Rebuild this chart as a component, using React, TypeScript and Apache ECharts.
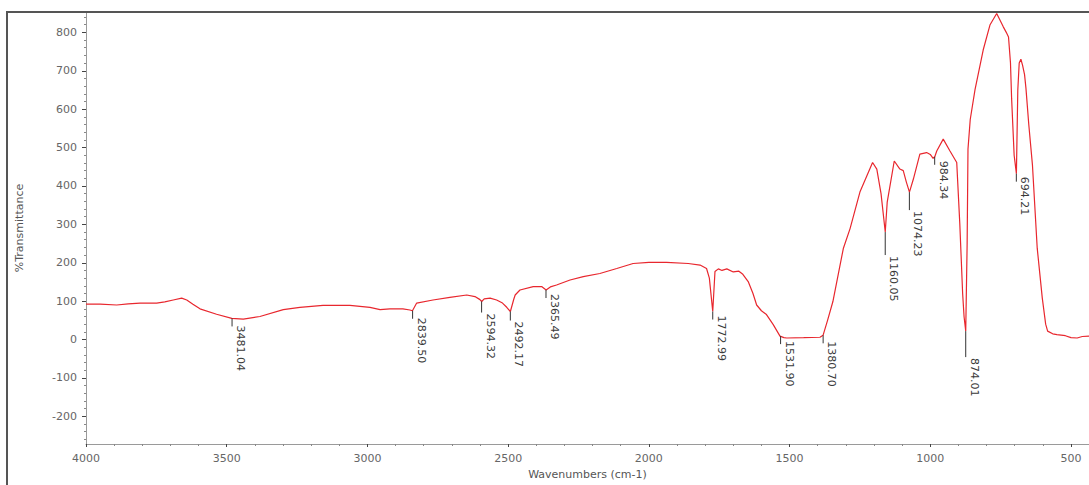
import React, { useEffect, useRef } from "react";
import * as echarts from "echarts";

// ---- Data ----
const wavenumbers = [
  4000, 3950, 3891, 3850, 3808, 3749, 3720, 3690, 3660, 3642, 3620, 3595, 3536, 3482, 3441, 3382, 3299, 3240,
  3158, 3062, 2991, 2955, 2920, 2874, 2849, 2840, 2825, 2767, 2707, 2647, 2618, 2600, 2594, 2585, 2564, 2541,
  2520, 2505, 2492, 2480, 2475, 2458, 2411, 2381, 2365, 2350, 2328, 2280, 2233, 2174, 2114, 2056, 2000, 1937,
  1860, 1818, 1795, 1785, 1773, 1765, 1753, 1740, 1723, 1700, 1680, 1666, 1647, 1630, 1617, 1600, 1582, 1558,
  1534, 1520, 1510, 1450, 1392, 1381, 1365, 1346, 1309, 1285, 1250, 1205, 1190, 1175, 1160, 1153, 1128, 1108,
  1096, 1085, 1074, 1060, 1037, 1013, 1000, 990, 984, 977, 954, 930, 906, 895, 885, 880, 874, 869, 866, 858,
  841, 812, 788, 764, 741, 730, 722, 715, 711, 702, 694, 689, 684, 678, 672, 665, 660, 650, 637, 620, 602, 590,
  583, 565, 550, 520, 500, 478, 460, 436,
];
const transmittance = [
  92, 92, 90, 93, 95, 95, 98, 103, 108, 103, 92, 80, 66, 55, 53, 60, 78, 84,
  89, 89, 84, 78, 80, 80, 77, 75, 95, 103, 110, 116, 112, 104, 99, 106, 108, 103,
  95, 84, 73, 105, 116, 129, 138, 138, 129, 137, 142, 155, 164, 172, 185, 198, 201, 201,
  198, 194, 185, 160, 73, 177, 184, 180, 184, 176, 178, 170, 151, 120, 90, 75, 65, 39,
  9, 5, 4, 5, 6, 11, 50, 99, 237, 289, 384, 461, 444, 380, 280, 358, 465, 444,
  440, 410, 384, 418, 483, 487, 482, 472, 476, 491, 522, 491, 461, 300, 120, 60, 22, 250, 496, 573,
  651, 754, 819, 849, 815, 800, 788, 720, 628, 480, 432, 650, 720, 730, 714, 690, 654, 560, 455, 238, 108, 40,
  22, 15, 13, 10, 5, 4, 8, 9,
];

const peakWavenumbers = [3481.04, 2839.5, 2594.32, 2492.17, 2365.49, 1772.99, 1531.9, 1380.7, 1160.05, 1074.23, 984.34, 874.01, 694.21];
const peakValues = [55, 75, 99, 73, 129, 73, 9, 11, 280, 384, 476, 22, 432];
const peakLabels = ["3481.04", "2839.50", "2594.32", "2492.17", "2365.49", "1772.99", "1531.90", "1380.70", "1160.05", "1074.23", "984.34", "874.01", "694.21"];

const xTickValues = [4000, 3500, 3000, 2500, 2000, 1500, 1000, 500];
const yTickValues = [-200, -100, 0, 100, 200, 300, 400, 500, 600, 700, 800];

// ---- Layout / style (not data) ----
const LABEL_GAP = [7, 7, 12, 10, 4, 4, 5, 6, 24, 19, 4, 27, 3];
const FONT = '"DejaVu Sans", Verdana, sans-serif';

const xMinor: number[] = [];
for (let v = 500; v <= 4000; v += 100) if (v % 500 !== 0) xMinor.push(v);
const yMinor: number[] = [];
for (let v = -260; v <= 840; v += 20) if (v % 100 !== 0) yMinor.push(v);

export default function App() {
  const ref = useRef<HTMLDivElement>(null);
  useEffect(() => {
    if (!ref.current) return;
    const chart = echarts.init(ref.current, undefined, { renderer: "svg" });
    const spectrum = wavenumbers.map((w, i) => [w, transmittance[i]]);
    const axisCommon = {
      type: "value" as const,
      splitLine: { show: false },
    };
    const plain = (v: number) => String(v);
    chart.setOption({
      animation: false,
      backgroundColor: "#ffffff",
      grid: { left: 86, right: 0, top: 12, bottom: 38, containLabel: false },
      graphic: [
        {
          type: "rect",
          shape: { x: 7, y: 12, width: 1200, height: 600 },
          style: { fill: "none", stroke: "#555", lineWidth: 2 },
          silent: true,
          z: 100,
        },
      ],
      xAxis: [
        {
          ...axisCommon,
          min: 436,
          max: 4000,
          inverse: true,
          position: "bottom",
          name: "Wavenumbers (cm-1)",
          nameLocation: "middle",
          nameGap: 25,
          nameTextStyle: { color: "#555", fontSize: 11, fontFamily: FONT },
          axisLine: { show: true, onZero: false, lineStyle: { color: "#9a9a9a", width: 1 } },
          axisTick: { show: true, customValues: xTickValues, length: 3, lineStyle: { color: "#444" } },
          axisLabel: { customValues: xTickValues, formatter: plain, color: "#666", fontSize: 11, fontFamily: FONT, margin: 9 },
        },
        {
          ...axisCommon,
          min: 436,
          max: 4000,
          inverse: true,
          position: "bottom",
          axisLine: { show: false, onZero: false },
          axisTick: { show: true, customValues: xMinor, length: 2, lineStyle: { color: "#888" } },
          axisLabel: { show: false },
        },
      ],
      yAxis: [
        {
          ...axisCommon,
          min: -272,
          max: 853,
          position: "left",
          name: "%Transmittance",
          nameLocation: "middle",
          nameGap: 61,
          nameRotate: 90,
          nameTextStyle: { color: "#555", fontSize: 11, fontFamily: FONT },
          axisLine: { show: true, onZero: false, lineStyle: { color: "#9a9a9a", width: 1 } },
          axisTick: { show: true, customValues: yTickValues, length: 4, lineStyle: { color: "#444" } },
          axisLabel: { customValues: yTickValues, formatter: plain, color: "#666", fontSize: 11, fontFamily: FONT, margin: 9 },
        },
        {
          ...axisCommon,
          min: -272,
          max: 853,
          position: "left",
          axisLine: { show: false, onZero: false },
          axisTick: { show: true, customValues: yMinor, length: 2, lineStyle: { color: "#888" } },
          axisLabel: { show: false },
        },
      ],
      series: [
        {
          type: "line",
          xAxisIndex: 0,
          yAxisIndex: 0,
          data: spectrum,
          showSymbol: false,
          symbol: "none",
          lineStyle: { color: "#e8272e", width: 1.2 },
          silent: true,
          z: 3,
        },
        {
          type: "custom",
          coordinateSystem: "cartesian2d",
          xAxisIndex: 0,
          yAxisIndex: 0,
          silent: true,
          clip: false,
          z: 5,
          data: peakWavenumbers.map((w, i) => [w, peakValues[i], i]),
          renderItem: (params: any, api: any) => {
            const i = api.value(2);
            const p = api.coord([api.value(0), api.value(1)]);
            const gap = LABEL_GAP[i];
            const len = Math.max(8, gap - 1);
            return {
              type: "group",
              children: [
                {
                  type: "line",
                  shape: { x1: p[0], y1: p[1], x2: p[0], y2: p[1] + len },
                  style: { stroke: "#333", lineWidth: 1 },
                },
                {
                  type: "text",
                  x: p[0] + 8.5,
                  y: p[1] + gap,
                  rotation: -Math.PI / 2,
                  style: {
                    text: peakLabels[i],
                    fill: "#3a3a3a",
                    font: "11px " + FONT,
                    align: "left",
                    verticalAlign: "middle",
                    textAlign: "left",
                    textVerticalAlign: "middle",
                  },
                },
              ],
            };
          },
        },
      ],
    });
    return () => chart.dispose();
  }, []);
  return (
    <div
      ref={ref}
      style={{ position: "fixed", left: 0, top: 0, width: 1089, height: 485, background: "#fff" }}
    />
  );
}
